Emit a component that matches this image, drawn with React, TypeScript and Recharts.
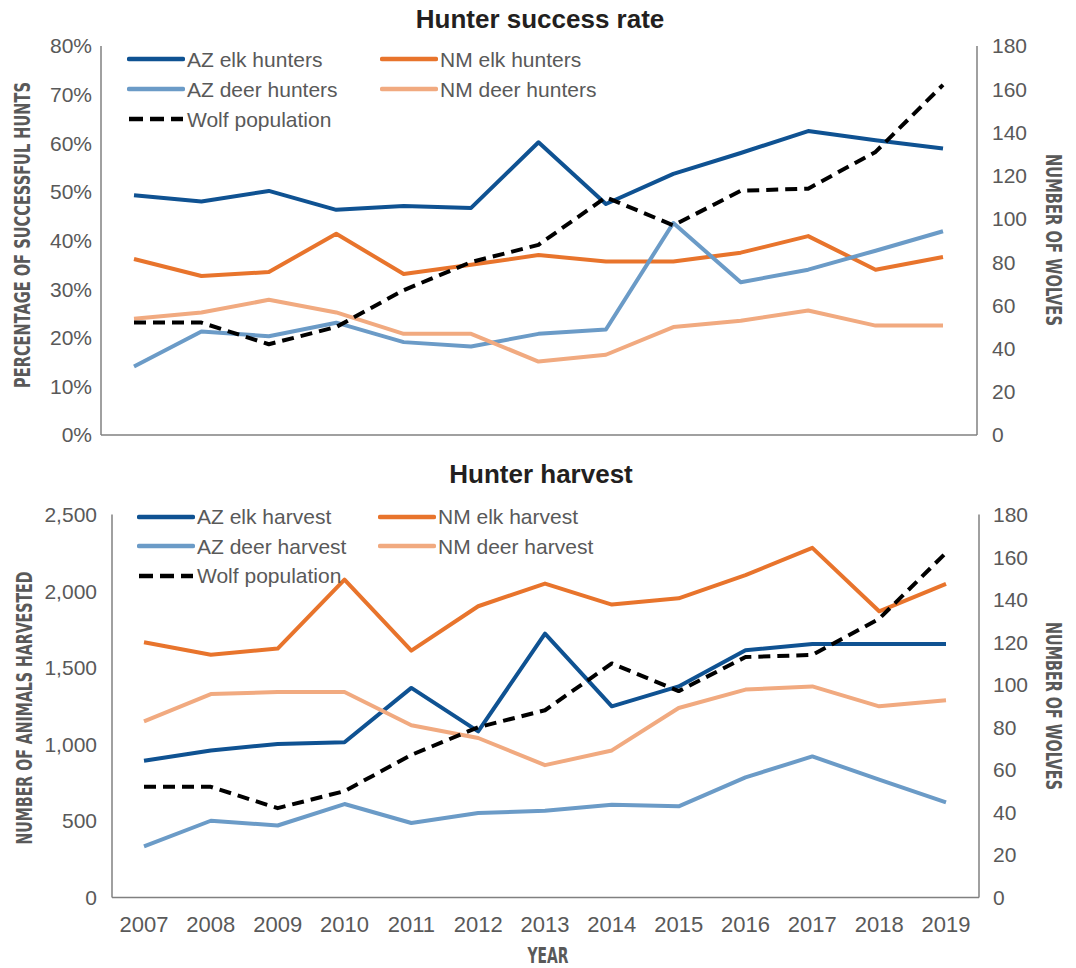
import React from 'react';
import { LineChart, Line, XAxis, YAxis, Legend } from 'recharts';

// ---------- data ----------
const years = ['2007', '2008', '2009', '2010', '2011', '2012', '2013', '2014', '2015', '2016', '2017', '2018', '2019'];

// Hunter success rate (%)
const azElkSuccess = [49.3, 48.0, 50.2, 46.3, 47.1, 46.7, 60.2, 47.5, 53.7, 58.0, 62.5, 60.6, 58.9];
const nmElkSuccess = [36.2, 32.7, 33.5, 41.4, 33.1, 35.0, 37.0, 35.7, 35.7, 37.5, 40.9, 34.0, 36.6];
const azDeerSuccess = [14.1, 21.3, 20.3, 23.1, 19.1, 18.2, 20.8, 21.7, 43.6, 31.4, 34.0, 37.9, 41.9];
const nmDeerSuccess = [23.9, 25.2, 27.8, 25.2, 20.8, 20.8, 15.1, 16.5, 22.2, 23.5, 25.6, 22.5, 22.5];

// Wolf population (number of wolves)
const wolfPopulation = [52, 52, 42, 50, 67, 80, 88, 110, 97, 113, 114, 131, 162];

// Hunter harvest (animals)
const azElkHarvest = [893, 960, 1002, 1013, 1368, 1084, 1722, 1248, 1378, 1614, 1655, 1655, 1655];
const nmElkHarvest = [1666, 1585, 1625, 2075, 1611, 1901, 2049, 1912, 1953, 2104, 2282, 1868, 2047];
const azDeerHarvest = [333, 501, 470, 610, 486, 551, 566, 605, 595, 784, 921, 769, 621];
const nmDeerHarvest = [1150, 1328, 1341, 1341, 1124, 1041, 864, 960, 1237, 1357, 1378, 1248, 1287];

// tick labels
const percentTicks = [0, 10, 20, 30, 40, 50, 60, 70, 80];
const wolfTicks = [0, 20, 40, 60, 80, 100, 120, 140, 160, 180];
const harvestTicks = [0, 500, 1000, 1500, 2000, 2500];

// ---------- styles ----------
const FONT = '"Liberation Sans", Arial, Helvetica, sans-serif';
const COND = '"DejaVu Sans Condensed", "DejaVu Sans", sans-serif';
const TEXT = '#595959';
const AXIS = '#808080';
const C_AZ_ELK = '#0F5292';
const C_NM_ELK = '#E8742C';
const C_AZ_DEER = '#6B9BC7';
const C_NM_DEER = '#F1AA80';
const C_WOLF = '#000000';
const DASH = '12 7';

const successData = years.map((year, i) => ({
  year,
  azElk: azElkSuccess[i],
  nmElk: nmElkSuccess[i],
  azDeer: azDeerSuccess[i],
  nmDeer: nmDeerSuccess[i],
  wolf: wolfPopulation[i],
}));

const harvestData = years.map((year, i) => ({
  year,
  azElk: azElkHarvest[i],
  nmElk: nmElkHarvest[i],
  azDeer: azDeerHarvest[i],
  nmDeer: nmDeerHarvest[i],
  wolf: wolfPopulation[i],
}));

type Item = { label: string; color: string; dash?: string };

const successLegend: Item[] = [
  { label: 'AZ elk hunters', color: C_AZ_ELK },
  { label: 'NM elk hunters', color: C_NM_ELK },
  { label: 'AZ deer hunters', color: C_AZ_DEER },
  { label: 'NM deer hunters', color: C_NM_DEER },
  { label: 'Wolf population', color: C_WOLF, dash: '14 7' },
];

const harvestLegend: Item[] = [
  { label: 'AZ elk harvest', color: C_AZ_ELK },
  { label: 'NM elk harvest', color: C_NM_ELK },
  { label: 'AZ deer harvest', color: C_AZ_DEER },
  { label: 'NM deer harvest', color: C_NM_DEER },
  { label: 'Wolf population', color: C_WOLF, dash: '14 7' },
];

const makeLegend = (items: Item[], colWidth: number, rowH: number) => () => (
  <div
    style={{
      display: 'grid',
      gridTemplateColumns: `${colWidth}px ${colWidth}px`,
      fontFamily: FONT,
    }}
  >
    {items.map((it) => (
      <div key={it.label} style={{ display: 'flex', alignItems: 'center', height: rowH }}>
        <svg width={58} height={10} style={{ display: 'block' }}>
          <line
            x1={2}
            y1={5}
            x2={56}
            y2={5}
            stroke={it.color}
            strokeWidth={4.5}
            strokeDasharray={it.dash}
            strokeLinecap={it.dash ? 'butt' : 'round'}
          />
        </svg>
        <span style={{ marginLeft: 2, fontSize: 21, color: TEXT, whiteSpace: 'nowrap', lineHeight: 1 }}>
          {it.label}
        </span>
      </div>
    ))}
  </div>
);

const tickStyle = { fill: TEXT, fontSize: 21, fontFamily: FONT };
const axisLine = { stroke: AXIS, strokeWidth: 1.5 };
const fmtPct = (v: number) => `${v}%`;
const fmtNum = (v: number) => v.toLocaleString('en-US');

const lineCommon = {
  type: 'linear' as const,
  dot: false,
  activeDot: false,
  isAnimationActive: false,
  strokeWidth: 4,
  strokeLinejoin: 'round' as const,
};

export default function App() {
  return (
    <div style={{ position: 'absolute', left: 0, top: 0, width: 1076, height: 968, background: '#fff' }}>
      {/* Top chart */}
      <div style={{ position: 'absolute', left: 0, top: 0 }}>
        <LineChart width={1076} height={460} data={successData} margin={{ top: 46, right: 0, bottom: 24, left: 0 }}>
          <XAxis
            dataKey="year"
            tick={false}
            tickLine={false}
            height={1}
            axisLine={axisLine}
            padding={{ left: 33, right: 34 }}
          />
          <YAxis
            yAxisId="left"
            width={101}
            domain={[0, 80]}
            ticks={percentTicks}
            tickFormatter={fmtPct}
            tick={tickStyle}
            tickLine={false}
            tickMargin={3}
            axisLine={axisLine}
            interval={0}
          />
          <YAxis
            yAxisId="right"
            orientation="right"
            width={99}
            domain={[0, 180]}
            ticks={wolfTicks}
            tick={tickStyle}
            tickLine={false}
            tickMargin={9}
            axisLine={axisLine}
            interval={0}
          />
          <Legend
            layout="horizontal"
            verticalAlign="middle"
            align="center"
            content={makeLegend(successLegend, 253, 30)}
            wrapperStyle={{ position: 'absolute', left: 127, top: 44, width: 600 }}
          />
          <Line {...lineCommon} yAxisId="left" dataKey="azElk" stroke={C_AZ_ELK} />
          <Line {...lineCommon} yAxisId="left" dataKey="nmElk" stroke={C_NM_ELK} />
          <Line {...lineCommon} yAxisId="left" dataKey="azDeer" stroke={C_AZ_DEER} />
          <Line {...lineCommon} yAxisId="left" dataKey="nmDeer" stroke={C_NM_DEER} />
          <Line {...lineCommon} yAxisId="right" dataKey="wolf" stroke={C_WOLF} strokeDasharray={DASH} />
        </LineChart>
      </div>

      {/* Bottom chart */}
      <div style={{ position: 'absolute', left: 0, top: 460 }}>
        <LineChart width={1076} height={508} data={harvestData} margin={{ top: 54.5, right: 0, bottom: 30.5, left: 0 }}>
          <XAxis
            dataKey="year"
            tick={{ fill: TEXT, fontSize: 22, fontFamily: FONT }}
            tickLine={false}
            tickMargin={13}
            height={40}
            axisLine={axisLine}
            interval={0}
            padding={{ left: 32, right: 33 }}
          />
          <YAxis
            yAxisId="left"
            width={112}
            domain={[0, 2500]}
            ticks={harvestTicks}
            tickFormatter={fmtNum}
            tick={tickStyle}
            tickLine={false}
            tickMargin={9}
            axisLine={axisLine}
            interval={0}
          />
          <YAxis
            yAxisId="right"
            orientation="right"
            width={97}
            domain={[0, 180]}
            ticks={wolfTicks}
            tick={tickStyle}
            tickLine={false}
            tickMargin={8}
            axisLine={axisLine}
            interval={0}
          />
          <Legend
            layout="horizontal"
            verticalAlign="middle"
            align="center"
            content={makeLegend(harvestLegend, 241, 29.5)}
            wrapperStyle={{ position: 'absolute', left: 137, top: 42, width: 600 }}
          />
          <Line {...lineCommon} yAxisId="left" dataKey="azElk" stroke={C_AZ_ELK} />
          <Line {...lineCommon} yAxisId="left" dataKey="nmElk" stroke={C_NM_ELK} />
          <Line {...lineCommon} yAxisId="left" dataKey="azDeer" stroke={C_AZ_DEER} />
          <Line {...lineCommon} yAxisId="left" dataKey="nmDeer" stroke={C_NM_DEER} />
          <Line {...lineCommon} yAxisId="right" dataKey="wolf" stroke={C_WOLF} strokeDasharray={DASH} />
        </LineChart>
      </div>

      {/* Titles overlay */}
      <svg
        width={1076}
        height={968}
        style={{ position: 'absolute', left: 0, top: 0, pointerEvents: 'none' }}
      >
        <text x={540} y={28} textAnchor="middle" fontFamily={FONT} fontWeight="bold" fontSize={26} fill="#231F20">
          Hunter success rate
        </text>
        <text x={541} y={483} textAnchor="middle" fontFamily={FONT} fontWeight="bold" fontSize={26} fill="#231F20">
          Hunter harvest
        </text>

        <text
          transform="translate(22,235) rotate(-90)"
          textAnchor="middle"
          dominantBaseline="central"
          fontFamily={COND}
          fontWeight="bold"
          fontSize={22}
          fill={TEXT}
          textLength={306}
          lengthAdjust="spacingAndGlyphs"
        >
          PERCENTAGE OF SUCCESSFUL HUNTS
        </text>
        <text
          transform="translate(1053,240) rotate(90)"
          textAnchor="middle"
          dominantBaseline="central"
          fontFamily={COND}
          fontWeight="bold"
          fontSize={22}
          fill={TEXT}
          textLength={172}
          lengthAdjust="spacingAndGlyphs"
        >
          NUMBER OF WOLVES
        </text>
        <text
          transform="translate(24,708) rotate(-90)"
          textAnchor="middle"
          dominantBaseline="central"
          fontFamily={COND}
          fontWeight="bold"
          fontSize={22}
          fill={TEXT}
          textLength={273}
          lengthAdjust="spacingAndGlyphs"
        >
          NUMBER OF ANIMALS HARVESTED
        </text>
        <text
          transform="translate(1053,706) rotate(90)"
          textAnchor="middle"
          dominantBaseline="central"
          fontFamily={COND}
          fontWeight="bold"
          fontSize={22}
          fill={TEXT}
          textLength={168}
          lengthAdjust="spacingAndGlyphs"
        >
          NUMBER OF WOLVES
        </text>
        <text
          x={548}
          y={955}
          textAnchor="middle"
          dominantBaseline="central"
          fontFamily={COND}
          fontWeight="bold"
          fontSize={22}
          fill={TEXT}
          textLength={41}
          lengthAdjust="spacingAndGlyphs"
        >
          YEAR
        </text>
      </svg>
    </div>
  );
}
